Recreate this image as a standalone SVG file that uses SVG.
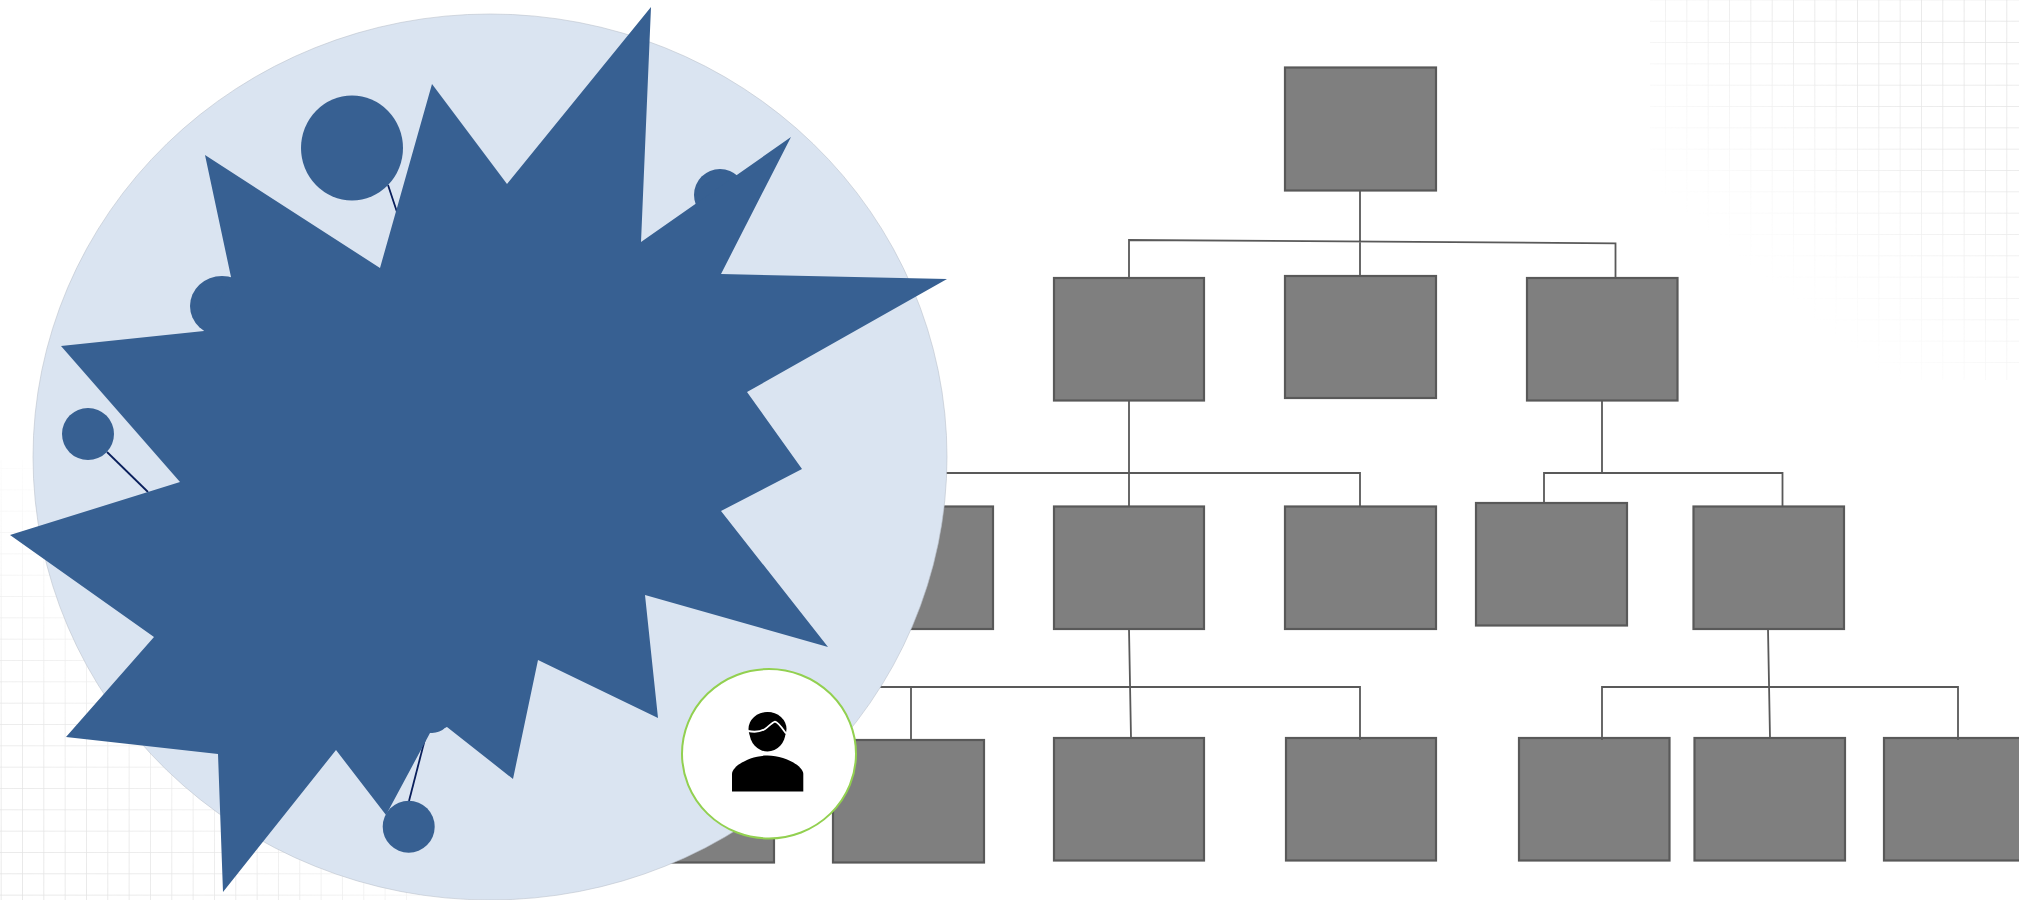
<svg xmlns="http://www.w3.org/2000/svg" width="2019" height="900" viewBox="0 0 2019 900">
<style>
.box{fill:#7f7f7f;stroke:#595959;stroke-width:2.2}
.conn{fill:none;stroke:#595959;stroke-width:1.8}
.spoke{stroke:#0a1f5c;stroke-width:1.8}
.blue{fill:#376092}
</style>
<defs>
<pattern id="gridTR" width="21.33" height="21.33" patternUnits="userSpaceOnUse" x="1857" y="20.7">
<path d="M0 0V21.33M0 0H21.33" fill="none" stroke="#e2e2e2" stroke-width="1.5"/>
</pattern>
<pattern id="gridBL" width="21.33" height="21.33" patternUnits="userSpaceOnUse" x="22" y="724">
<path d="M0 0V21.33M0 0H21.33" fill="none" stroke="#e2e2e2" stroke-width="1.5"/>
</pattern>
<linearGradient id="fadeTR" gradientUnits="userSpaceOnUse" x1="2019" y1="0" x2="1780" y2="290">
<stop offset="0" stop-color="#fff"/><stop offset="0.45" stop-color="#fff" stop-opacity=".8"/><stop offset="1" stop-color="#fff" stop-opacity="0"/>
</linearGradient>
<linearGradient id="fadeBL" gradientUnits="userSpaceOnUse" x1="0" y1="900" x2="240" y2="610">
<stop offset="0" stop-color="#fff"/><stop offset="0.45" stop-color="#fff" stop-opacity=".8"/><stop offset="1" stop-color="#fff" stop-opacity="0"/>
</linearGradient>
<mask id="maskTR"><rect x="1650" y="0" width="369" height="380" fill="url(#fadeTR)"/></mask>
<mask id="maskBL"><rect x="0" y="460" width="420" height="440" fill="url(#fadeBL)"/></mask>
</defs>
<rect width="2019" height="900" fill="#fff"/>
<g id="background-grid">
<rect x="1650" y="0" width="369" height="380" fill="url(#gridTR)" mask="url(#maskTR)"/>
<rect x="0" y="460" width="420" height="440" fill="url(#gridBL)" mask="url(#maskBL)"/>
</g>
<g id="node-top"><rect class="box" x="1285" y="67.5" width="151" height="123"/></g>
<g id="node-l2-a"><rect class="box" x="1054" y="278" width="150" height="122.5"/></g>
<g id="node-l2-b"><rect class="box" x="1285" y="276" width="151" height="122"/></g>
<g id="node-l2-c"><rect class="box" x="1527" y="278" width="150.5" height="122.5"/></g>
<g id="node-l3-hidden"><rect class="box" x="842" y="506.5" width="151" height="122.5"/></g>
<g id="node-l3-a"><rect class="box" x="1054" y="506.5" width="150" height="122.5"/></g>
<g id="node-l3-b"><rect class="box" x="1285" y="506.5" width="151" height="122.5"/></g>
<g id="node-l3-c"><rect class="box" x="1476" y="503" width="151" height="122.5"/></g>
<g id="node-l3-d"><rect class="box" x="1693.5" y="506.5" width="150.5" height="122.5"/></g>
<g id="node-l4-hidden"><rect class="box" x="623" y="740" width="151" height="122.5"/></g>
<g id="node-l4-a"><rect class="box" x="833" y="740" width="151" height="122.5"/></g>
<g id="node-l4-b"><rect class="box" x="1054" y="738" width="150" height="122.5"/></g>
<g id="node-l4-c"><rect class="box" x="1286" y="738" width="150" height="122.5"/></g>
<g id="node-l4-d"><rect class="box" x="1519" y="738" width="150.5" height="122.5"/></g>
<g id="node-l4-e"><rect class="box" x="1694.5" y="738" width="150.5" height="122.5"/></g>
<g id="node-l4-f"><rect class="box" x="1884" y="738" width="150" height="122.5"/></g>
<g id="connectors">
<path class="conn" d="M1360 190.5V277M1129 277V240L1615.5 243.3V279"/>
<path class="conn" d="M1129 400.5V506.5M900 473H1360V506.5"/>
<path class="conn" d="M1602 400.5V473M1544 502.5V473H1782.5V506.5"/>
<path class="conn" d="M1129 629L1131 738M880 687H1360V740M911 687V739"/>
<path class="conn" d="M1768 629L1770 738M1602 740V687H1958V740"/>
</g>
<g id="hub">
<ellipse cx="490" cy="457" rx="457" ry="443" fill="#dae4f1" stroke="#bcc3cc" stroke-width=".6"/>
<line class="spoke" x1="388" y1="185" x2="397" y2="212"/>
<line class="spoke" x1="107" y1="452" x2="148" y2="492"/>
<line class="spoke" x1="409" y1="801" x2="426" y2="735"/>
<ellipse class="blue" cx="352" cy="148" rx="51" ry="52.5"/>
<ellipse class="blue" cx="720" cy="195" rx="26" ry="26"/>
<ellipse class="blue" cx="222" cy="306" rx="32" ry="30"/>
<ellipse class="blue" cx="88" cy="434" rx="26" ry="26"/>
<ellipse class="blue" cx="408.7" cy="826.7" rx="26" ry="26"/>
<circle class="blue" cx="432" cy="714" r="19"/>
<polygon class="blue" points="651,7 641,242 791,137 721,274 947,279 747,392 802,469 721,511 828,647 645,595 658,718 538,660 513,779 447,727 430,733 386,815 336,750 223,892 218,754 66,737 154,637 10,535 180,482 61,346 204,331 231,277 205,155 380,268 432,84 507,184"/>
</g>
<g id="person-badge">
<ellipse cx="769" cy="753.7" rx="87" ry="84.7" fill="#fff" stroke="#92d050" stroke-width="2"/>
<ellipse cx="767.5" cy="732" rx="18" ry="19.5"/>
<ellipse cx="767.5" cy="729" rx="19" ry="17"/>
<path d="M748 731C755 732.500 760 732 765 729C770 725 773 722 775 721.700C778 722 782 728 786 733.500" fill="none" stroke="#fff" stroke-width="1.800"/>
<path d="M732 791.500V774C732 766 750 755.500 767.500 755.500C785 755.500 803.300 766 803.300 774V791.500Z"/>
</g>
</svg>
